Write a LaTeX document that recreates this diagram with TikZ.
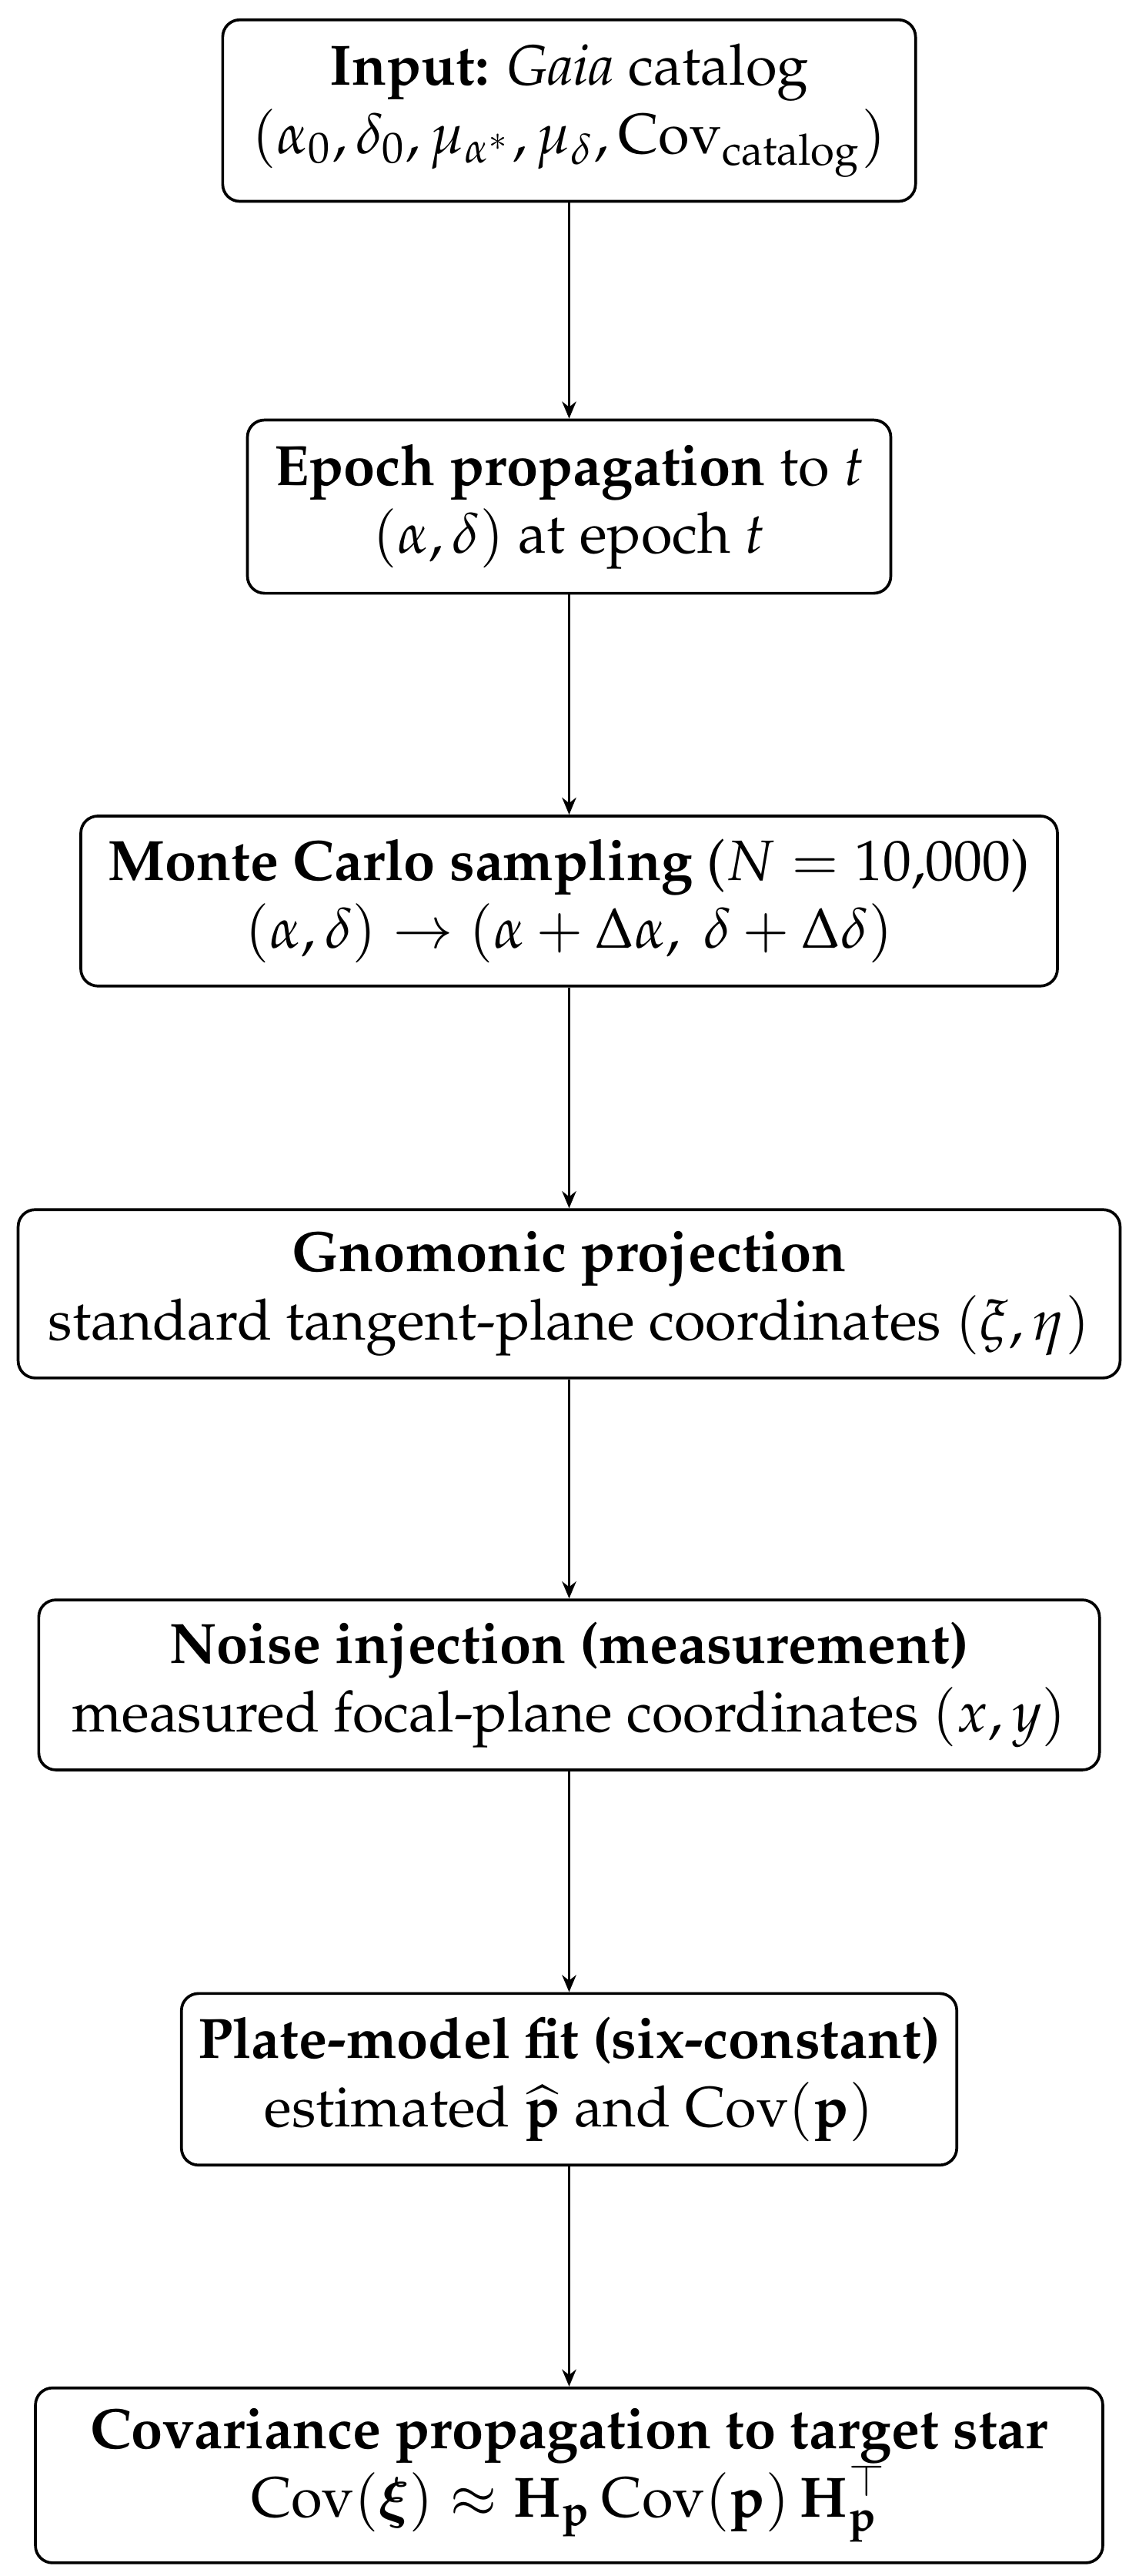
\documentclass[tikz,border=0pt]{standalone}
\usepackage{amsmath,amssymb,bm}
\usepackage[T1]{fontenc}
\usepackage{mathpazo}
\usetikzlibrary{arrows.meta}
\begin{document}
\begin{tikzpicture}[x=0.29pt,y=-0.29pt,
  box/.style={draw,rounded corners=3pt,align=center,inner sep=2pt,line width=0.5pt,font=\normalsize},
  arr/.style={-{Stealth[length=3pt,width=2.5pt]},line width=0.4pt}]
\useasboundingbox (0,0) rectangle (690,1561);
\node[box,minimum width=420*0.29pt,minimum height=110*0.29pt] (a) at (345,67) {\textbf{Input:} \textit{Gaia} catalog\\ $(\alpha_0,\delta_0,\mu_{\alpha^*},\mu_\delta,\mathrm{Cov}_{\mathrm{catalog}})$};
\node[box,minimum width=390*0.29pt,minimum height=105*0.29pt] (b) at (345,307) {\textbf{Epoch propagation} to $t$\\ $(\alpha,\delta)$ at epoch $t$};
\node[box,minimum width=592*0.29pt,minimum height=103*0.29pt] (c) at (345,546) {\textbf{Monte Carlo sampling} ($N=10{,}000$)\\ $(\alpha,\delta)\rightarrow(\alpha+\Delta\alpha,\ \delta+\Delta\delta)$};
\node[box,minimum width=668*0.29pt,minimum height=102*0.29pt] (d) at (345,784) {\textbf{Gnomonic projection}\\ standard tangent-plane coordinates $(\xi,\eta)$};
\node[box,minimum width=643*0.29pt,minimum height=103*0.29pt] (e) at (345,1021) {\textbf{Noise injection (measurement)}\\ measured focal-plane coordinates $(x,y)$};
\node[box,minimum width=470*0.29pt,minimum height=104*0.29pt] (f) at (345,1260) {\textbf{Plate-model fit (six-constant)}\\ estimated $\widehat{\mathbf{p}}$ and $\mathrm{Cov}(\mathbf{p})$};
\node[box,minimum width=647*0.29pt,minimum height=106*0.29pt] (g) at (345,1500) {\textbf{Covariance propagation to target star}\\ $\mathrm{Cov}(\bm{\xi})\approx\mathbf{H}_{\mathbf{p}}\,\mathrm{Cov}(\mathbf{p})\,\mathbf{H}_{\mathbf{p}}^{\top}$};
\draw[arr] (a) -- (b);
\draw[arr] (b) -- (c);
\draw[arr] (c) -- (d);
\draw[arr] (d) -- (e);
\draw[arr] (e) -- (f);
\draw[arr] (f) -- (g);
\end{tikzpicture}
\end{document}
